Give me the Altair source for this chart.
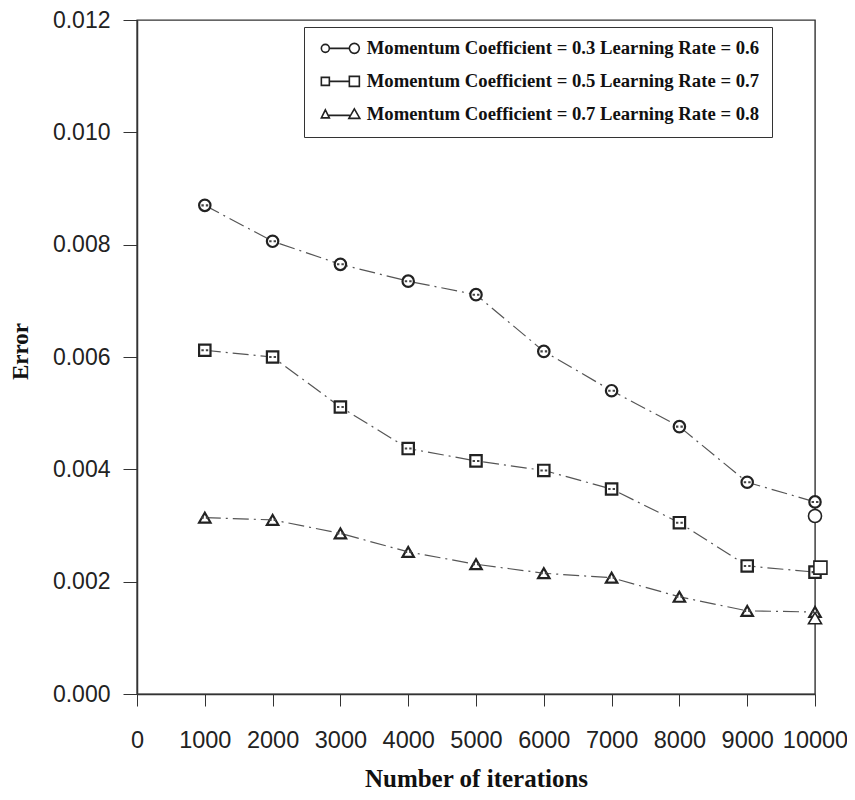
import altair as alt
import pandas as pd

iterations = [1000, 2000, 3000, 4000, 5000, 6000, 7000, 8000, 9000, 10000]
err_a = [0.00870, 0.00806, 0.00765, 0.00735, 0.00711, 0.00610, 0.00540, 0.00476, 0.00377, 0.00342]
err_b = [0.00612, 0.00600, 0.00511, 0.00437, 0.00415, 0.00398, 0.00365, 0.00305, 0.00228, 0.00217]
err_c = [0.00314, 0.00310, 0.00286, 0.00253, 0.00231, 0.00215, 0.00207, 0.00173, 0.00148, 0.00146]
series_names = [
    "Momentum Coefficient = 0.3 Learning Rate = 0.6",
    "Momentum Coefficient = 0.5 Learning Rate = 0.7",
    "Momentum Coefficient = 0.7 Learning Rate = 0.8",
]
extra_x = [10000, 10080, 10000]
extra_y = [0.00317, 0.00225, 0.00135]
x_ticks = [0, 1000, 2000, 3000, 4000, 5000, 6000, 7000, 8000, 9000, 10000]
y_ticks = [0.0, 0.002, 0.004, 0.006, 0.008, 0.010, 0.012]

rows = []
for name, vals in zip(series_names, [err_a, err_b, err_c]):
    for it, v in zip(iterations, vals):
        rows.append({"iter": it, "err": v, "series": name})
df = pd.DataFrame(rows)
extra_df = pd.DataFrame({"iter": extra_x, "err": extra_y, "series": series_names})

marker_shapes = ["circle", "square", "triangle-up"]
# legend glyph: small marker, connecting line, bold marker (extends to the right of the symbol box)
legend_paths = [
    "M -0.8 0 A 0.8 0.8 0 1 1 0.8 0 A 0.8 0.8 0 1 1 -0.8 0 Z M 0.8 0 L 4.8 0 M 4.8 0 A 1 1 0 1 1 6.8 0 A 1 1 0 1 1 4.8 0 Z",
    "M -0.8 -0.8 H 0.8 V 0.8 H -0.8 Z M 0.8 0 L 4.8 0 M 4.8 -1 H 6.8 V 1 H 4.8 Z",
    "M 0 -0.9 L 0.8 0.7 L -0.8 0.7 Z M 0.6 0.2 L 4.9 0.2 M 5.8 -1.1 L 6.9 0.8 L 4.7 0.8 Z",
]
dots_path = "M -0.6 -0.18 H -0.18 V 0.18 H -0.6 Z M 0.18 -0.18 H 0.6 V 0.18 H 0.18 Z"
pad_spaces = "\u2003\u2002"

x_enc = alt.X(
    "iter:Q",
    scale=alt.Scale(domain=[0, 10000], nice=False, zero=False),
    axis=alt.Axis(
        values=x_ticks, format="d", title="Number of iterations",
        tickSize=12, labelPadding=22, labelFont="Liberation Sans", labelFontSize=23.5,
        labelColor="#222", labelFlush=False, labelOverlap=False,
        tickColor="#333", domainColor="#333", domainWidth=1.5, grid=False,
        titleFont="Liberation Serif", titleFontSize=25, titleFontWeight="bold",
        titleColor="#111", titleX=339, titleY=92, titleBaseline="alphabetic",
    ),
)
y_enc = alt.Y(
    "err:Q",
    scale=alt.Scale(domain=[0, 0.012], nice=False, zero=True),
    axis=alt.Axis(
        values=y_ticks, format=".3f", title="Error",
        tickSize=14, labelPadding=13, labelFont="Liberation Sans", labelFontSize=23,
        labelColor="#222", tickColor="#333", domainColor="#333", domainWidth=1.5,
        grid=False, titleFont="Liberation Serif", titleFontSize=23,
        titleFontWeight="bold", titleColor="#111", titleX=-117, titleY=331,
        titleBaseline="middle", titleAngle=270,
    ),
)

lines = alt.Chart(df).mark_line(
    stroke="#555", strokeWidth=1.2, strokeDash=[16, 5, 2, 5]
).encode(x=x_enc, y=y_enc, detail="series:N")

markers = alt.Chart(df).mark_point(
    filled=True, fill="white", stroke="#222", strokeWidth=2.2, size=130, opacity=1
).encode(
    x=x_enc, y=y_enc,
    shape=alt.Shape("series:N", scale=alt.Scale(domain=series_names, range=marker_shapes), legend=None),
)

dots = alt.Chart(df).mark_point(
    shape=dots_path, filled=True, fill="#444", size=130, strokeWidth=0, opacity=1
).encode(x=x_enc, y=y_enc)

extra = alt.Chart(extra_df).mark_point(
    filled=True, fill="white", stroke="#222", strokeWidth=1.6, size=170, opacity=1
).encode(
    x=x_enc, y=y_enc,
    shape=alt.Shape("series:N", scale=alt.Scale(domain=series_names, range=marker_shapes), legend=None),
)

legend_layer = alt.Chart(df).transform_filter("false").mark_point(
    filled=False, stroke="#222", strokeWidth=1.6, size=100, opacity=1
).encode(
    x=x_enc, y=y_enc,
    shape=alt.Shape(
        "series:N",
        scale=alt.Scale(domain=series_names, range=legend_paths),
        legend=alt.Legend(
            orient="none", legendX=167, legendY=7, title=None,
            strokeColor="#333", fillColor="white", padding=12,
            labelFont="Liberation Serif", labelFontSize=18.7, labelFontWeight="bold",
            labelColor="#111", labelOffset=32, labelLimit=900,
            labelExpr="datum.label + '" + pad_spaces + "'",
            symbolSize=100, symbolStrokeWidth=1.6, symbolStrokeColor="#222",
            symbolFillColor="white", symbolOpacity=1, rowPadding=13,
        ),
    ),
)

chart = alt.layer(lines, markers, dots, extra, legend_layer).resolve_scale(
    shape="independent"
).properties(
    width=678, height=674,
    autosize=alt.AutoSizeParams(type="none"),
    padding={"left": 129, "top": 12, "right": 32, "bottom": 98},
    background="white",
).configure_view(stroke="#333", strokeWidth=1.4)

chart.save("out.html", embed_options={"renderer": "svg", "actions": False})
